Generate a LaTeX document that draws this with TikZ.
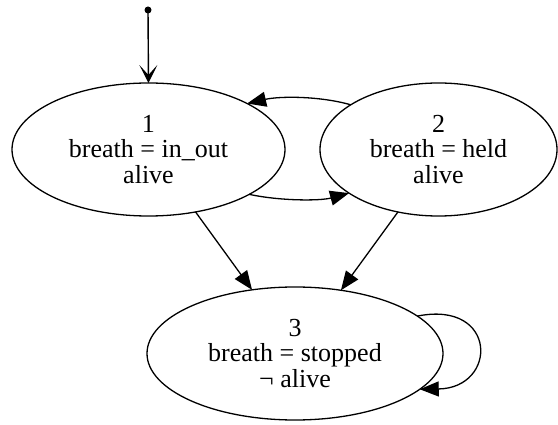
\documentclass[tikz,border=0pt]{standalone}
\usepackage{fontspec}
\setmainfont{Liberation Serif}
\usetikzlibrary{shapes.geometric,arrows.meta}
\tikzset{
  state/.style={draw, ellipse, line width=1.3pt, inner sep=0pt, outer sep=0pt,
    minimum height=133pt, align=center, font=\fontsize{26}{25.5}\selectfont},
  edge/.style={line width=1.3pt, -{Triangle[length=19pt,width=15pt]}},
  initedge/.style={line width=1.4pt, -{Stealth[length=18pt,width=18pt,inset=10pt]}},
}
\begin{document}
\begin{tikzpicture}[x=1pt,y=-1pt]
\useasboundingbox (0,0) rectangle (558,425);
\node[state, minimum width=273pt] (n1) at (148.5,149.5) {1\\breath = in\_out\\alive};
\node[state, minimum width=237pt] (n2) at (438.5,149.5) {2\\breath = held\\alive};
\node[state, minimum width=296pt] (n3) at (295,353.5) {3\\breath = stopped\\¬ alive};
\coordinate (init) at (148,10);
\fill (init) circle[radius=3.5pt];
\draw[initedge] (init) -- (n1.north);
\draw[edge] (n2.153.3) .. controls (320,96) and (280,96) .. (n1.25.1);
\draw[edge] (n1.-24.1) .. controls (280,201) and (320,201) .. (n2.-154.1);
\draw[edge] (n1.-53.8) -- (n3.124.5);
\draw[edge] (n2.-123.6) -- (n3.54.3);
\draw[edge] (n3.17.1) .. controls (498,300) and (498,388) .. (n3.-16.5);
\end{tikzpicture}
\end{document}
